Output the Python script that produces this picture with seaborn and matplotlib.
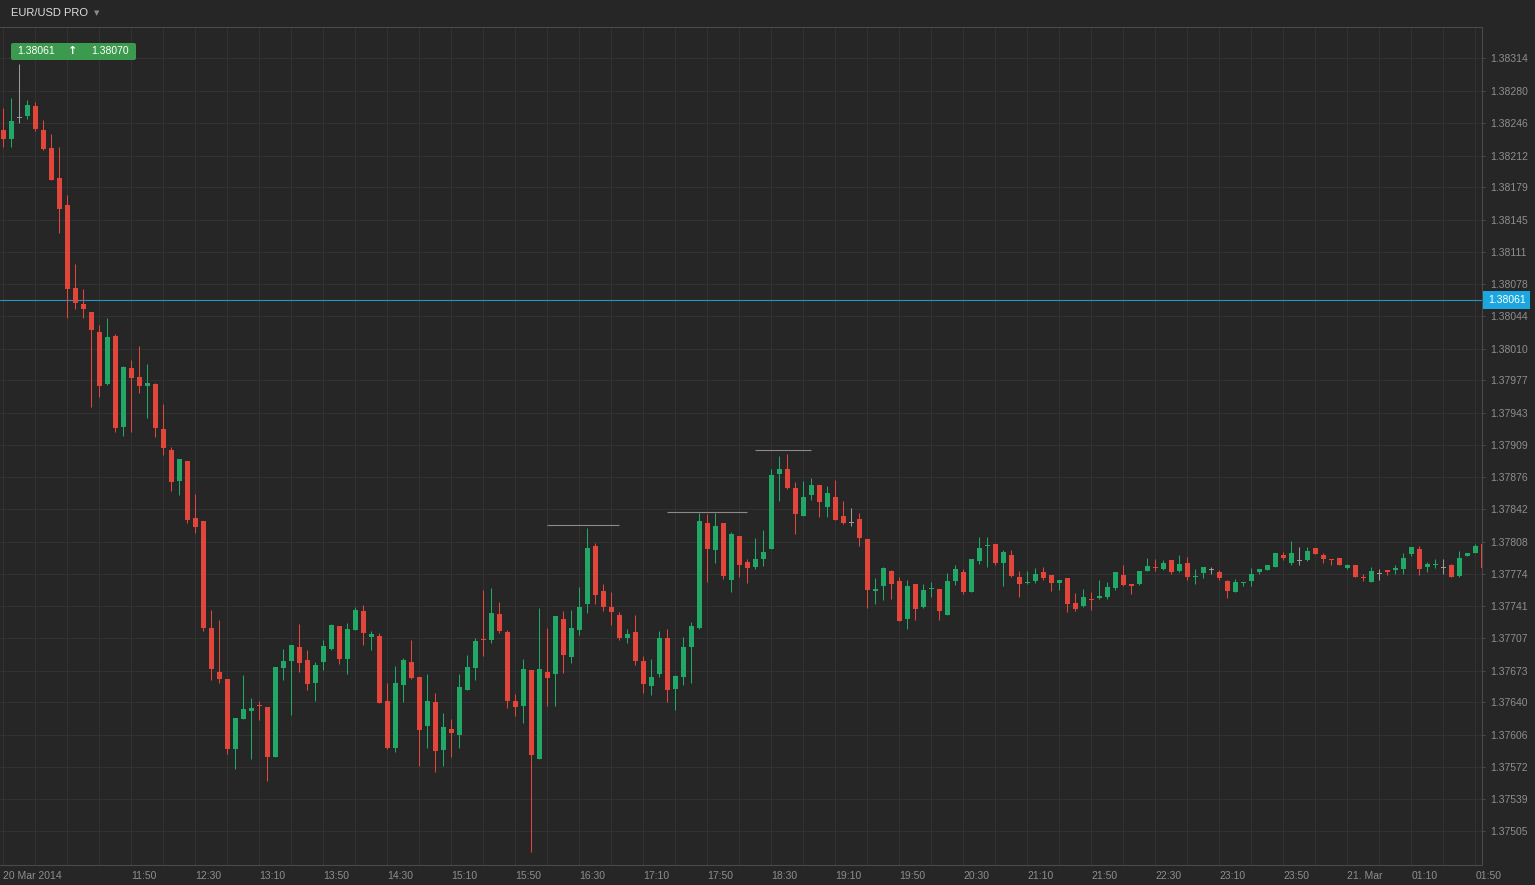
import numpy as np
import matplotlib
matplotlib.use("Agg")
import matplotlib.pyplot as plt
import matplotlib.transforms as mtransforms
from matplotlib.patches import FancyBboxPatch
import seaborn as sns

# EUR/USD 5 minute candles, 20 Mar 2014 10:30 -> 21 Mar 01:55
opens = [
    1.38239, 1.38230, 1.38252, 1.38254, 1.38264, 1.38239, 1.38220, 1.38189, 1.38160, 1.38074,
    1.38057, 1.38048, 1.38027, 1.37973, 1.38023, 1.37928, 1.37990, 1.37980, 1.37971, 1.37973,
    1.37926, 1.37904, 1.37871, 1.37892, 1.37833, 1.37830, 1.37718, 1.37672, 1.37664, 1.37591,
    1.37622, 1.37631, 1.37637, 1.37635, 1.37583, 1.37676, 1.37683, 1.37698, 1.37684, 1.37660,
    1.37682, 1.37696, 1.37720, 1.37685, 1.37715, 1.37735, 1.37708, 1.37709, 1.37641, 1.37592,
    1.37658, 1.37682, 1.37666, 1.37615, 1.37640, 1.37590, 1.37612, 1.37606, 1.37653, 1.37676,
    1.37706, 1.37705, 1.37732, 1.37713, 1.37641, 1.37636, 1.37674, 1.37580, 1.37672, 1.37669,
    1.37727, 1.37687, 1.37715, 1.37743, 1.37803, 1.37756, 1.37740, 1.37731, 1.37707, 1.37713,
    1.37683, 1.37657, 1.37669, 1.37707, 1.37654, 1.37666, 1.37698, 1.37718, 1.37828, 1.37799,
    1.37828, 1.37768, 1.37814, 1.37787, 1.37781, 1.37790, 1.37800, 1.37879, 1.37884, 1.37864,
    1.37835, 1.37857, 1.37867, 1.37844, 1.37855, 1.37835, 1.37828, 1.37832, 1.37811, 1.37756,
    1.37761, 1.37777, 1.37767, 1.37727, 1.37764, 1.37740, 1.37758, 1.37758, 1.37731, 1.37767,
    1.37776, 1.37755, 1.37788, 1.37803, 1.37806, 1.37786, 1.37794, 1.37771, 1.37765, 1.37767,
    1.37776, 1.37773, 1.37765, 1.37770, 1.37744, 1.37741, 1.37748, 1.37749, 1.37750, 1.37759,
    1.37773, 1.37764, 1.37764, 1.37777, 1.37781, 1.37779, 1.37789, 1.37777, 1.37786, 1.37771,
    1.37775, 1.37778, 1.37776, 1.37767, 1.37755, 1.37765, 1.37767, 1.37776, 1.37778, 1.37781,
    1.37794, 1.37786, 1.37788, 1.37789, 1.37801, 1.37794, 1.37790, 1.37791, 1.37780, 1.37784,
    1.37771, 1.37766, 1.37774, 1.37778, 1.37778, 1.37779, 1.37795, 1.37800, 1.37781, 1.37784,
    1.37780, 1.37784, 1.37772, 1.37793, 1.37796, 1.37806,
]
highs = [
    1.38262, 1.38272, 1.38308, 1.38270, 1.38268, 1.38249, 1.38235, 1.38221, 1.38171, 1.38099,
    1.38072, 1.38048, 1.38035, 1.38042, 1.38025, 1.37992, 1.37998, 1.38013, 1.37994, 1.37974,
    1.37952, 1.37907, 1.37895, 1.37892, 1.37858, 1.37830, 1.37736, 1.37726, 1.37664, 1.37623,
    1.37668, 1.37644, 1.37641, 1.37635, 1.37677, 1.37696, 1.37700, 1.37722, 1.37695, 1.37682,
    1.37705, 1.37722, 1.37720, 1.37723, 1.37740, 1.37742, 1.37714, 1.37712, 1.37660, 1.37678,
    1.37686, 1.37705, 1.37666, 1.37669, 1.37649, 1.37629, 1.37622, 1.37669, 1.37689, 1.37707,
    1.37757, 1.37759, 1.37745, 1.37715, 1.37648, 1.37685, 1.37674, 1.37738, 1.37718, 1.37730,
    1.37735, 1.37736, 1.37760, 1.37822, 1.37807, 1.37764, 1.37755, 1.37734, 1.37716, 1.37731,
    1.37688, 1.37685, 1.37714, 1.37716, 1.37668, 1.37708, 1.37724, 1.37838, 1.37837, 1.37838,
    1.37828, 1.37818, 1.37814, 1.37790, 1.37812, 1.37820, 1.37884, 1.37898, 1.37900, 1.37870,
    1.37871, 1.37875, 1.37867, 1.37866, 1.37872, 1.37851, 1.37843, 1.37838, 1.37811, 1.37770,
    1.37781, 1.37778, 1.37771, 1.37768, 1.37764, 1.37764, 1.37766, 1.37758, 1.37775, 1.37783,
    1.37779, 1.37790, 1.37813, 1.37813, 1.37806, 1.37799, 1.37799, 1.37777, 1.37777, 1.37780,
    1.37781, 1.37773, 1.37768, 1.37770, 1.37754, 1.37758, 1.37755, 1.37768, 1.37766, 1.37776,
    1.37783, 1.37764, 1.37777, 1.37791, 1.37790, 1.37789, 1.37789, 1.37794, 1.37792, 1.37779,
    1.37781, 1.37781, 1.37778, 1.37768, 1.37769, 1.37766, 1.37780, 1.37779, 1.37783, 1.37796,
    1.37797, 1.37809, 1.37802, 1.37802, 1.37801, 1.37796, 1.37790, 1.37791, 1.37785, 1.37784,
    1.37774, 1.37781, 1.37779, 1.37778, 1.37784, 1.37796, 1.37802, 1.37803, 1.37787, 1.37790,
    1.37790, 1.37785, 1.37798, 1.37796, 1.37805, 1.37806,
]
lows = [
    1.38221, 1.38221, 1.38246, 1.38250, 1.38238, 1.38218, 1.38187, 1.38131, 1.38042, 1.38052,
    1.38042, 1.37949, 1.37959, 1.37972, 1.37923, 1.37919, 1.37923, 1.37964, 1.37937, 1.37918,
    1.37899, 1.37861, 1.37857, 1.37827, 1.37817, 1.37714, 1.37663, 1.37660, 1.37586, 1.37570,
    1.37622, 1.37580, 1.37621, 1.37557, 1.37583, 1.37663, 1.37626, 1.37671, 1.37653, 1.37641,
    1.37674, 1.37695, 1.37680, 1.37669, 1.37715, 1.37700, 1.37694, 1.37639, 1.37591, 1.37588,
    1.37640, 1.37664, 1.37573, 1.37592, 1.37567, 1.37573, 1.37582, 1.37592, 1.37653, 1.37663,
    1.37688, 1.37702, 1.37712, 1.37634, 1.37625, 1.37618, 1.37483, 1.37580, 1.37636, 1.37636,
    1.37670, 1.37681, 1.37710, 1.37733, 1.37743, 1.37735, 1.37721, 1.37705, 1.37702, 1.37679,
    1.37649, 1.37647, 1.37666, 1.37640, 1.37632, 1.37658, 1.37660, 1.37717, 1.37766, 1.37786,
    1.37769, 1.37755, 1.37771, 1.37765, 1.37779, 1.37782, 1.37800, 1.37851, 1.37863, 1.37816,
    1.37835, 1.37852, 1.37834, 1.37834, 1.37831, 1.37826, 1.37824, 1.37803, 1.37738, 1.37743,
    1.37747, 1.37748, 1.37725, 1.37716, 1.37726, 1.37738, 1.37750, 1.37726, 1.37731, 1.37763,
    1.37753, 1.37755, 1.37785, 1.37781, 1.37783, 1.37762, 1.37771, 1.37750, 1.37764, 1.37765,
    1.37768, 1.37756, 1.37757, 1.37734, 1.37735, 1.37740, 1.37736, 1.37748, 1.37748, 1.37757,
    1.37761, 1.37753, 1.37763, 1.37777, 1.37777, 1.37778, 1.37774, 1.37776, 1.37768, 1.37764,
    1.37770, 1.37774, 1.37768, 1.37749, 1.37755, 1.37762, 1.37761, 1.37774, 1.37778, 1.37781,
    1.37789, 1.37783, 1.37783, 1.37788, 1.37795, 1.37786, 1.37784, 1.37784, 1.37779, 1.37771,
    1.37767, 1.37766, 1.37768, 1.37773, 1.37774, 1.37774, 1.37793, 1.37773, 1.37776, 1.37780,
    1.37774, 1.37771, 1.37771, 1.37793, 1.37796, 1.37778,
]
closes = [
    1.38230, 1.38248, 1.38252, 1.38265, 1.38240, 1.38219, 1.38187, 1.38156, 1.38072, 1.38058,
    1.38052, 1.38030, 1.37971, 1.38022, 1.37927, 1.37991, 1.37979, 1.37971, 1.37974, 1.37927,
    1.37906, 1.37870, 1.37895, 1.37831, 1.37823, 1.37718, 1.37675, 1.37664, 1.37591, 1.37623,
    1.37633, 1.37634, 1.37636, 1.37582, 1.37677, 1.37683, 1.37700, 1.37681, 1.37659, 1.37679,
    1.37699, 1.37721, 1.37685, 1.37717, 1.37736, 1.37712, 1.37711, 1.37639, 1.37592, 1.37660,
    1.37684, 1.37665, 1.37611, 1.37641, 1.37589, 1.37614, 1.37608, 1.37656, 1.37677, 1.37704,
    1.37705, 1.37733, 1.37714, 1.37641, 1.37635, 1.37675, 1.37585, 1.37675, 1.37665, 1.37730,
    1.37689, 1.37718, 1.37740, 1.37801, 1.37752, 1.37740, 1.37734, 1.37707, 1.37711, 1.37683,
    1.37659, 1.37666, 1.37707, 1.37653, 1.37667, 1.37698, 1.37720, 1.37830, 1.37800, 1.37824,
    1.37772, 1.37816, 1.37784, 1.37780, 1.37790, 1.37797, 1.37878, 1.37884, 1.37864, 1.37837,
    1.37855, 1.37867, 1.37849, 1.37859, 1.37831, 1.37828, 1.37828, 1.37812, 1.37757, 1.37758,
    1.37780, 1.37764, 1.37725, 1.37761, 1.37737, 1.37757, 1.37759, 1.37735, 1.37767, 1.37779,
    1.37755, 1.37790, 1.37801, 1.37804, 1.37786, 1.37797, 1.37772, 1.37764, 1.37766, 1.37774,
    1.37770, 1.37765, 1.37768, 1.37743, 1.37737, 1.37750, 1.37747, 1.37751, 1.37760, 1.37776,
    1.37763, 1.37762, 1.37777, 1.37782, 1.37780, 1.37786, 1.37776, 1.37785, 1.37771, 1.37772,
    1.37781, 1.37778, 1.37770, 1.37756, 1.37766, 1.37766, 1.37774, 1.37779, 1.37783, 1.37796,
    1.37791, 1.37796, 1.37788, 1.37798, 1.37795, 1.37790, 1.37789, 1.37784, 1.37784, 1.37771,
    1.37770, 1.37777, 1.37774, 1.37776, 1.37780, 1.37791, 1.37802, 1.37779, 1.37785, 1.37785,
    1.37780, 1.37771, 1.37791, 1.37796, 1.37803, 1.37780,
]

first_label = "20 Mar 2014"
time_labels = ["11:50", "12:30", "13:10", "13:50", "14:30", "15:10", "15:50", "16:30",
               "17:10", "17:50", "18:30", "19:10", "19:50", "20:30", "21:10", "21:50",
               "22:30", "23:10", "23:50", "21. Mar", "01:10", "01:50"]
price_labels = ["1.38314", "1.38280", "1.38246", "1.38212", "1.38179", "1.38145", "1.38111",
                "1.38078", "1.38044", "1.38010", "1.37977", "1.37943", "1.37909", "1.37876",
                "1.37842", "1.37808", "1.37774", "1.37741", "1.37707", "1.37673", "1.37640",
                "1.37606", "1.37572", "1.37539", "1.37505"]

bid_price = "1.38061"
ask_price = "1.38070"
last_price = 1.38061

# drawn resistance lines: level, first candle, last candle
level_prices = [1.37825, 1.37839, 1.37904]
level_from = [68, 83, 94]
level_to = [77, 93, 101]

BG = "#262626"
GRID = "#323232"
SPINE = "#4a4a4a"
TXT = "#8e8e8e"
UP = "#21a866"
DOWN = "#e2463a"
FLAT = "#9a9a9a"

sns.set_theme(style="dark", rc={"axes.facecolor": BG, "figure.facecolor": BG,
                                "grid.color": GRID, "axes.edgecolor": SPINE})
plt.rcParams["font.family"] = ["Liberation Sans", "DejaVu Sans"]

fig = plt.figure(figsize=(15.35, 8.85), dpi=100)
fig.patch.set_facecolor(BG)
ax = fig.add_axes([0, 0.02226, 0.96567, 0.94757])
ax.set_facecolor(BG)

o = np.array(opens)
h = np.array(highs)
l = np.array(lows)
c = np.array(closes)
x = np.arange(len(o))
cols = np.where(c > o, UP, np.where(c < o, DOWN, FLAT))

ax.vlines(x, l, h, colors=cols, linewidth=0.75, zorder=3)
body = np.maximum(np.abs(c - o), 1.0e-5)
ax.bar(x, body, bottom=np.minimum(o, c), width=0.63, color=cols, linewidth=0, zorder=4)

# resistance lines
for lv, a, b in zip(level_prices, level_from, level_to):
    ax.hlines(lv, a, b, colors="#8a8a8a", linewidth=0.8, zorder=5)

# current price line
ax.axhline(last_price, color="#2a93c8", linewidth=0.8, zorder=2)

ax.set_xlim(-0.41, 184.875)
ax.set_ylim(1.374691, 1.383471)

ax.set_xticks(np.arange(0, len(o), 4))
ax.set_yticks([float(v) for v in price_labels])
ax.grid(True, color=GRID, linewidth=0.75)
ax.tick_params(axis="x", length=0, labelbottom=False)
ax.yaxis.tick_right()
ax.set_yticklabels(price_labels)
ax.tick_params(axis="y", colors=SPINE, labelcolor=TXT, labelsize=7.5, length=2.5,
               width=0.7, pad=3, left=False, right=True)
for side in ["top", "right", "bottom"]:
    ax.spines[side].set_visible(True)
    ax.spines[side].set_color(SPINE)
    ax.spines[side].set_linewidth(0.8)
ax.spines["left"].set_visible(False)

# time labels, left aligned on every second grid line
xt = mtransforms.blended_transform_factory(ax.transData, ax.transAxes)
ax.text(0, -0.0128, first_label, transform=xt, ha="left", va="center",
        color=TXT, fontsize=7.5, clip_on=False)
for i, lab in enumerate(time_labels):
    ax.text(16 + 8 * i, -0.0128, lab, transform=xt, ha="left", va="center",
            color=TXT, fontsize=7.5, clip_on=False)

# current price tag on the axis
ax.annotate(bid_price, xy=(1, last_price), xycoords=("axes fraction", "data"),
            xytext=(4, 0), textcoords="offset points", ha="left", va="center",
            color="white", fontsize=7.5, zorder=10, annotation_clip=False,
            bbox=dict(boxstyle="square,pad=0.42", fc="#1ba6e0", ec="none"))

# header and bid/ask badge
ov = fig.add_axes([0, 0, 1, 1], facecolor="none")
ov.set_xlim(0, 1535)
ov.set_ylim(885, 0)
ov.axis("off")
ov.text(11, 13.5, "EUR/USD PRO", color="#dedede", fontsize=8, ha="left", va="center")
ov.text(97, 13.5, "\u25bc", color="#8a8a8a", fontsize=5, ha="center", va="center",
        family="DejaVu Sans")
ov.add_patch(FancyBboxPatch((11, 43), 125, 17, boxstyle="round,pad=0,rounding_size=2",
                            fc="#3c9a4e", ec="none"))
ov.text(17, 51.5, bid_price, color="white", fontsize=7.5, ha="left", va="center")
ov.text(73, 51.5, "\u2191", color="white", fontsize=8, ha="center", va="center",
        family="DejaVu Sans", fontweight="bold")
ov.text(91, 51.5, ask_price, color="white", fontsize=7.5, ha="left", va="center")

fig.savefig("out.png", dpi=100, facecolor=BG)
